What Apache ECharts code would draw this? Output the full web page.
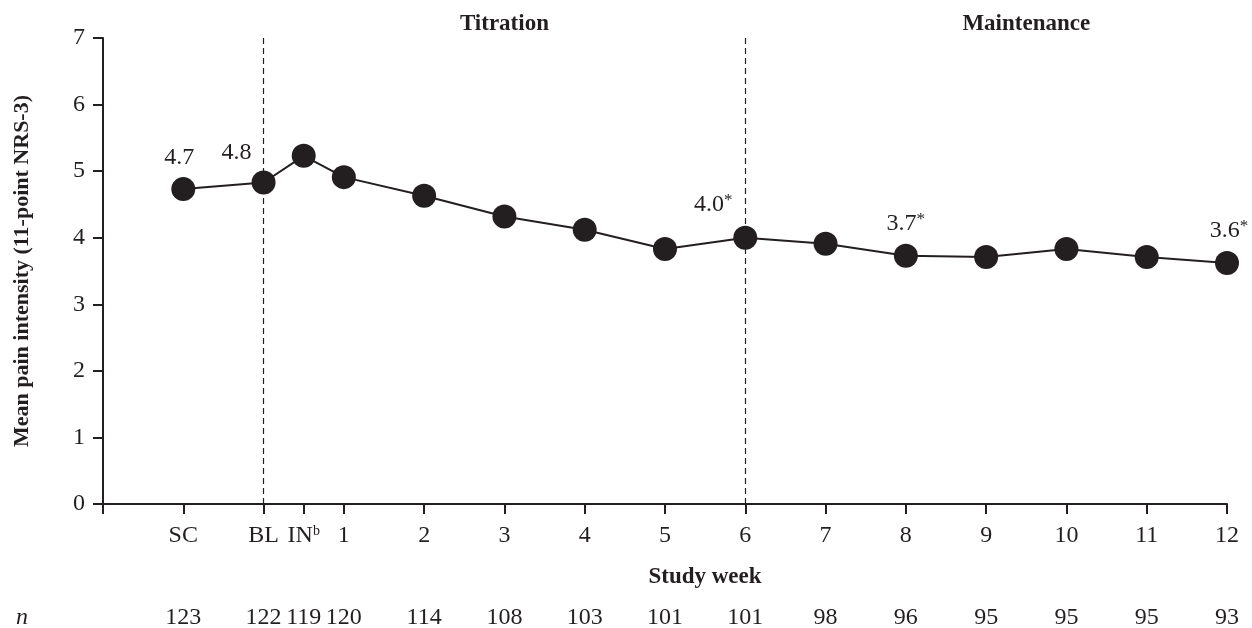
<!DOCTYPE html>
<html>
<head>
<meta charset="utf-8">
<script src="https://cdn.jsdelivr.net/npm/echarts@6/dist/echarts.min.js"></script>
<style>
  html, body { margin: 0; padding: 0; background: #fff; }
  #chart { width: 1252px; height: 628px; }
</style>
</head>
<body>
<div id="chart"></div>
<script>
// Study visits on a week scale: SC = -1, BL = 0, IN = 0.5, then weeks 1-12
const weeks = [-1, 0, 0.5, 1, 2, 3, 4, 5, 6, 7, 8, 9, 10, 11, 12];
const weekLabels = ['SC', 'BL', 'IN{sup|b}', '1', '2', '3', '4', '5', '6', '7', '8', '9', '10', '11', '12'];
const meanPain = [4.73, 4.83, 5.23, 4.91, 4.63, 4.32, 4.12, 3.83, 4.0, 3.91, 3.73, 3.71, 3.83, 3.71, 3.62];
const nPatients = [123, 122, 119, 120, 114, 108, 103, 101, 101, 98, 96, 95, 95, 95, 93];
// visits whose mean is printed, and whether the change from baseline was significant
const labelledWeeks = [-1, 0, 6, 8, 12];
const significantWeeks = [6, 8, 12];
const phaseBounds = [0, 6];
const phaseNames = ['Titration', 'Maintenance'];
const phaseCentres = [3, 9.5];
const yTicks = [0, 1, 2, 3, 4, 5, 6, 7];

const INK = '#231f20';
const FONT = '"Liberation Serif", "DejaVu Serif", serif';

// label nudges so the printed values clear the line and the dashed markers
const labelShift = { '-1': [-4, 0], '0': [-27, 1], '6': [-32, -1], '8': [0, 0], '12': [2, 0] };

const seriesData = weeks.map((w, i) => {
  const item = { value: [w, meanPain[i]] };
  if (labelledWeeks.includes(w)) {
    const star = significantWeeks.includes(w) ? '{s|*}' : '';
    item.label = {
      show: true,
      position: 'top',
      distance: 7,
      offset: labelShift[String(w)],
      formatter: '{v|' + meanPain[i].toFixed(1) + '}' + star,
      rich: {
        v: { fontFamily: FONT, fontSize: 24, color: INK },
        s: { fontFamily: FONT, fontSize: 17, color: INK, padding: [0, 0, 9, 0] }
      }
    };
  }
  return item;
});

const chart = echarts.init(document.getElementById('chart'));
const xMin = -2, xMax = 12;

const option = {
  animation: false,
  backgroundColor: '#fff',
  grid: { left: 103, right: 25, top: 38, bottom: 124, outerBoundsMode: 'none', containLabel: false },
  xAxis: [
    {
      type: 'value', min: xMin, max: xMax,
      name: 'Study week', nameLocation: 'middle', nameGap: 62,
      nameTextStyle: { fontFamily: FONT, fontSize: 23, fontWeight: 'bold', color: INK, padding: [0, 0, 0, 80] },
      axisLine: { show: true, onZero: false, lineStyle: { color: INK, width: 2 } },
      axisTick: { show: true, length: 10, lineStyle: { color: INK, width: 2 }, customValues: [xMin].concat(weeks) },
      axisLabel: {
        customValues: weeks,
        margin: 20,
        fontFamily: FONT, fontSize: 24, color: INK,
        formatter: v => weekLabels[weeks.indexOf(v)] || '',
        rich: {
          sup: { fontFamily: FONT, fontSize: 14, color: INK, padding: [0, 0, 10, 0] }
        }
      },
      splitLine: { show: false }
    },
    {
      // patient counts printed under each visit
      type: 'value', min: xMin, max: xMax, position: 'bottom', offset: 83,
      axisLine: { show: false }, axisTick: { show: false }, splitLine: { show: false },
      axisLabel: {
        customValues: weeks,
        margin: 19,
        fontFamily: FONT, fontSize: 24, color: INK,
        formatter: v => { const k = weeks.indexOf(v); return k >= 0 ? String(nPatients[k]) : ''; }
      }
    }
  ],
  yAxis: {
    type: 'value', min: 0, max: 7, interval: 1,
    name: 'Mean pain intensity (11-point NRS-3)', nameLocation: 'middle', nameGap: 70,
    nameTextStyle: { fontFamily: FONT, fontSize: 22, fontWeight: 'bold', color: INK },
    axisLine: { show: true, onZero: false, lineStyle: { color: INK, width: 2 } },
    axisTick: { show: true, length: 10, lineStyle: { color: INK, width: 2 } },
    axisLabel: { margin: 18, fontFamily: FONT, fontSize: 24, color: INK, formatter: v => yTicks.includes(v) ? String(v) : '' },
    splitLine: { show: false }
  },
  series: [{
    type: 'line',
    data: seriesData,
    symbol: 'circle',
    symbolSize: 24,
    lineStyle: { color: INK, width: 2 },
    itemStyle: { color: INK },
    z: 5,
    markLine: {
      silent: true,
      symbol: ['none', 'none'],
      label: { show: false },
      lineStyle: { color: INK, type: [6, 4], width: 1.2 },
      data: phaseBounds.map(b => ({ xAxis: b }))
    }
  }]
};

chart.setOption(option);

// phase headings placed over their weeks, plus the "n" row heading
const phaseGraphics = phaseNames.map((name, i) => ({
  type: 'text',
  x: chart.convertToPixel({ xAxisIndex: 0 }, phaseCentres[i]),
  y: 24,
  style: {
    text: name, fontFamily: FONT, fontSize: 23, fontWeight: 'bold', fill: INK,
    align: 'center', verticalAlign: 'middle'
  }
}));
phaseGraphics.push({
  type: 'text', x: 22, y: 618,
  style: { text: 'n', fontFamily: FONT, fontSize: 24, fontStyle: 'italic', fill: INK, align: 'center', verticalAlign: 'middle' }
});
chart.setOption({ graphic: phaseGraphics });
</script>
</body>
</html>
